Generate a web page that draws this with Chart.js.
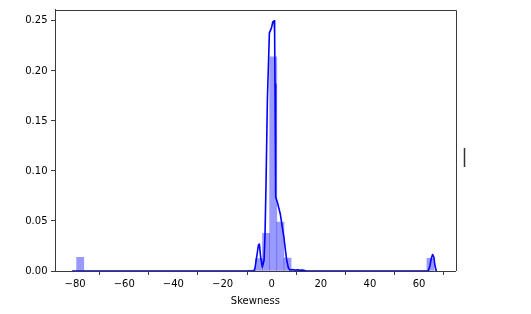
<!DOCTYPE html>
<html><head><meta charset="utf-8">
<script src="https://cdn.jsdelivr.net/npm/chart.js@4"></script>
<style>html,body{margin:0;padding:0;background:#fff;overflow:hidden;}</style>
</head><body>
<canvas id="c" width="531" height="314"></canvas>
<script>
// ---- data ----
const binStart = -79.4;
const binWidth = 2.91;
const histDensity = [0.0137, 0,0,0,0,0,0,0,0,0, 0,0,0,0,0,0,0,0,0,0, 0,0,0,0,
  0.001, 0.0125, 0.0377, 0.214, 0.049, 0.013, 0.0015, 0.001,
  0,0,0,0,0,0,0,0, 0,0,0,0,0,0,0,0,0, 0.0127];
const kdeX = [-81.0, -7.2, -6.8, -6.1, -5.4, -5.0, -4.5, -3.8, -3.1, -2.7, -2.3, -1.75, -0.94, -0.4, 0, 0.45, 1.0, 1.2, 1.35, 1.5, 1.75, 2.4, 3.1, 3.5, 4.3, 5.0, 5.45, 6.1, 6.8, 7.4, 8.5, 9.5, 10.5, 11.5, 12.5, 14.0, 63.7, 64.4, 65.0, 65.5, 66.0, 66.5, 67.0];
const kdeY = [0, 0, 0.003, 0.014, 0.026, 0.027, 0.014, 0.004, 0.011, 0.038, 0.088, 0.171, 0.238, 0.241, 0.244, 0.249, 0.25, 0.237, 0.187, 0.121, 0.074, 0.068, 0.061, 0.057, 0.044, 0.033, 0.024, 0.011, 0.003, 0.001, 0.0015, 0.0008, 0.0012, 0.0006, 0.001, 0, 0, 0.005, 0.013, 0.0165, 0.014, 0.005, 0];
const xTicks = [-80, -60, -40, -20, 0, 20, 40, 60];
const yTicks = [0, 0.05, 0.10, 0.15, 0.20, 0.25];
const xLabel = 'Skewness';

// ---- build ----
const histData = histDensity.map((h, k) => ({x: binStart + binWidth * (k + 0.5), y: h}));
const kdeData = kdeX.map((x, i) => ({x: x, y: kdeY[i]}));

Chart.defaults.font.family = "'DejaVu Sans'";
Chart.defaults.font.size = 10;
Chart.defaults.color = '#000';

const axisColor = '#3a3a3a';
const fmtNum = v => (v < 0 ? '\u2212' + Math.abs(v) : String(v));

const framePlugin = {
  id: 'frame',
  afterDraw(chart) {
    const {ctx, chartArea: a} = chart;
    ctx.save();
    ctx.strokeStyle = axisColor;
    ctx.lineWidth = 1;
    ctx.beginPath();
    ctx.moveTo(Math.round(a.left), Math.round(a.top) + 0.5);
    ctx.lineTo(Math.round(a.right) + 0.5, Math.round(a.top) + 0.5);
    ctx.lineTo(Math.round(a.right) + 0.5, Math.round(a.bottom));
    ctx.stroke();
    // stray text cursor mark seen at the right of the picture
    ctx.strokeStyle = '#333';
    ctx.lineWidth = 1.5;
    ctx.beginPath();
    ctx.moveTo(464.5, 148);
    ctx.lineTo(464.5, 167);
    ctx.stroke();
    ctx.restore();
  }
};

new Chart(document.getElementById('c'), {
  data: {
    datasets: [
      {type: 'line', data: kdeData, borderColor: '#0000ff', borderWidth: 1.6, pointRadius: 0,
       fill: false, tension: 0, borderJoinStyle: 'round', borderCapStyle: 'round', order: 0},
      {type: 'bar', data: histData, backgroundColor: 'rgba(0,0,255,0.4)', borderWidth: 0,
       barPercentage: 1.0, categoryPercentage: 1.0, order: 1}
    ]
  },
  options: {
    responsive: false,
    animation: false,
    devicePixelRatio: 1,
    layout: {padding: {top: 9.3, right: 75.3, left: 0, bottom: 0}},
    plugins: {legend: {display: false}, tooltip: {enabled: false}},
    scales: {
      x: {
        type: 'linear', min: -88.2, max: 74.9, offset: false,
        afterBuildTicks: s => { s.ticks = xTicks.map(v => ({value: v})); },
        afterFit: s => { s.height = 43; },
        ticks: {callback: v => fmtNum(v), padding: 3, maxRotation: 0, autoSkip: false, color: '#000'},
        grid: {display: true, drawOnChartArea: false, drawTicks: true, tickLength: 4, tickColor: axisColor, tickWidth: 1},
        border: {display: true, color: axisColor, width: 1},
        title: {display: true, text: xLabel, color: '#000', font: {size: 10}, padding: {top: 0, bottom: 7}}
      },
      y: {
        type: 'linear', min: 0, max: 0.2614,
        afterBuildTicks: s => { s.ticks = yTicks.map(v => ({value: v})); },
        afterFit: s => { s.width = 55; },
        ticks: {callback: v => Number(v).toFixed(2), padding: 3.5, autoSkip: false, color: '#000'},
        grid: {display: true, drawOnChartArea: false, drawTicks: true, tickLength: 4, tickColor: axisColor, tickWidth: 1},
        border: {display: true, color: axisColor, width: 1}
      }
    }
  },
  plugins: [framePlugin]
});
</script>
</body></html>
